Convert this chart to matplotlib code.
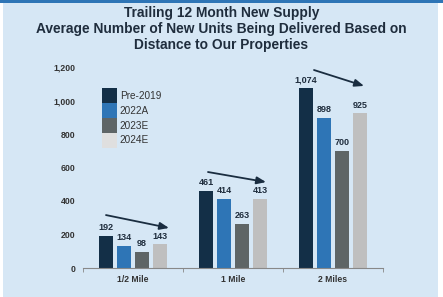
import matplotlib
matplotlib.use("Agg")
import matplotlib.pyplot as plt
from matplotlib.patches import Rectangle, Patch
import numpy as np

categories = ["1/2 Mile", "1 Mile", "2 Miles"]
series_names = ["Pre-2019", "2022A", "2023E", "2024E"]
pre2019 = [192, 461, 1074]
a2022 = [134, 414, 898]
e2023 = [98, 263, 700]
e2024 = [143, 413, 925]
series_values = [pre2019, a2022, e2023, e2024]
yticks = [0, 200, 400, 600, 800, 1000, 1200]
# arrow annotations (start x-offset, start y, end x-offset, end y) per category
arrow_start = [(-0.27, 316), (-0.25, 573), (-0.19, 1182)]
arrow_end = [(0.36, 239), (0.33, 513), (0.31, 1087)]

bar_colors = ["#132f47", "#2e75b6", "#5e6566", "#bfbfbf"]
legend_colors = ["#132f47", "#2e75b6", "#5e6566", "#dfdfdf"]
bg = "#d6e7f5"
txt = "#1f2d3d"

plt.rcParams['font.family'] = ['Liberation Sans', 'DejaVu Sans']

fig = plt.figure(figsize=(4.43, 2.97), dpi=100)
fig.patch.set_facecolor("white")
W, H = 443, 297
fig.patches.append(Rectangle((3 / W, 0 / H), 435 / W, 1 - 0 / H, transform=fig.transFigure,
                             facecolor=bg, edgecolor="none", zorder=-10))
fig.patches.append(Rectangle((0, 1 - 3 / H), 1, 3 / H, transform=fig.transFigure,
                             facecolor="#2e75b6", edgecolor="none", zorder=-9))

for i, line in enumerate(["Trailing 12 Month New Supply",
                          "Average Number of New Units Being Delivered Based on",
                          "Distance to Our Properties"]):
    fig.text(0.5, 1 - (13 + 16 * i) / H, line, ha="center", va="center",
             fontsize=9.9, fontweight="bold", color=txt)

ax = fig.add_axes([83 / W, 29 / H, 300 / W, 201 / H])
ax.set_facecolor("none")
x = np.arange(len(categories))
offsets = [-0.27, -0.09, 0.09, 0.27]
width = 0.145
for vals, off, c, name in zip(series_values, offsets, bar_colors, series_names):
    ax.bar(x + off, vals, width=width, color=c, label=name, zorder=2)
    for xi, v in zip(x + off, vals):
        ax.annotate(f"{v:,}", (xi, v), xytext=(0, 2.5), textcoords="offset points",
                    ha="center", va="bottom", fontsize=6.5, fontweight="bold", color=txt)

for xi, s, e in zip(x, arrow_start, arrow_end):
    ax.annotate("", xy=(xi + e[0], e[1]), xytext=(xi + s[0], s[1]),
                arrowprops=dict(arrowstyle="-|>,head_length=0.55,head_width=0.22",
                                color="#1a2d40", lw=1.3, shrinkA=0, shrinkB=0))

ax.set_xlim(-0.5, 2.5)
ax.set_ylim(0, 1200)
ax.set_yticks(yticks)
ax.set_yticklabels([f"{t:,}" for t in yticks], fontsize=6.3, fontweight="bold", color="#333333")
ax.tick_params(axis="y", length=0, pad=5.5)
ax.set_xticks(x)
ax.set_xticklabels(categories, fontsize=6.2, fontweight="bold", color="#333333")
ax.tick_params(axis="x", length=0, pad=5)
ax.set_xticks([-0.5, 0.5, 1.5, 2.5], minor=True)
ax.tick_params(axis="x", which="minor", length=3, color="#888888", direction="out")
for sp in ["top", "right", "left"]:
    ax.spines[sp].set_visible(False)
ax.spines["bottom"].set_color("#888888")
ax.spines["bottom"].set_linewidth(0.8)

handles = [Patch(facecolor=c, edgecolor="none") for c in legend_colors]
ax.legend(handles, series_names, loc="upper left", bbox_to_anchor=(0.063, 0.895),
          frameon=False, fontsize=7.2, handlelength=1.5, handleheight=1.85,
          labelspacing=0.05, handletextpad=0.3, borderpad=0, borderaxespad=0,
          labelcolor="#333333")

fig.savefig("out.png", dpi=100, facecolor=fig.get_facecolor())
